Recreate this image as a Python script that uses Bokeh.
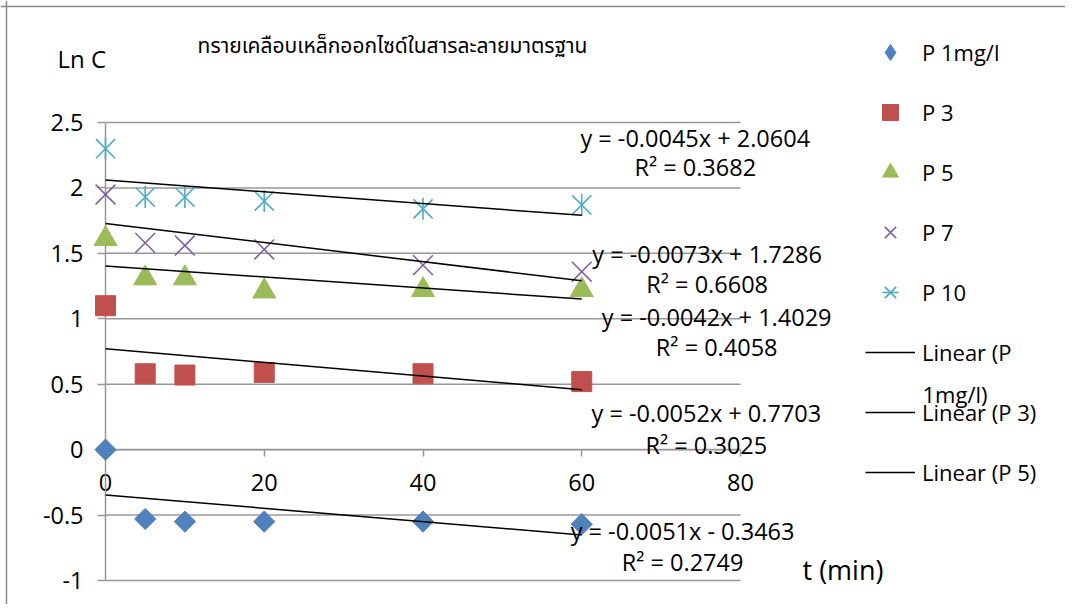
import numpy as np
from bokeh.plotting import figure
from bokeh.models import (Range1d, LinearAxis, FixedTicker, Legend,
                          LegendItem, Label, Span)
from bokeh.core.properties import value
from bokeh.embed import file_html
from bokeh.resources import INLINE

# ---------------- data ----------------
title_text = "ทรายเคลือบเหล็กออกไซด์ในสารละลายมาตรฐาน"
y_title = "Ln C"
x_title = "t (min)"

t = [0, 5, 10, 20, 40, 60]
series_names = ["P 1mg/l", "P 3", "P 5", "P 7", "P 10"]
p1 = [0.0, -0.53, -0.55, -0.55, -0.55, -0.57]
p3 = [1.10, 0.58, 0.57, 0.59, 0.58, 0.52]
p5 = [1.61, 1.31, 1.31, 1.21, 1.22, 1.22]
p7 = [1.95, 1.58, 1.56, 1.53, 1.41, 1.36]
p10 = [2.30, 1.93, 1.93, 1.90, 1.84, 1.87]

trend_slopes = [-0.0051, -0.0052, -0.0042, -0.0073, -0.0045]
trend_intercepts = [-0.3463, 0.7703, 1.4029, 1.7286, 2.0604]
trend_r2 = [0.2749, 0.3025, 0.4058, 0.6608, 0.3682]

x_ticks = [0, 20, 40, 60, 80]
x_tick_labels = ["0", "20", "40", "60", "80"]
y_ticks = [-1, -0.5, 0, 0.5, 1, 1.5, 2, 2.5]
y_tick_labels = ["-1", "-0.5", "0", "0.5", "1", "1.5", "2", "2.5"]

# ---------------- layout / style ----------------
W, H = 1065, 604
SX = 635 / 80.0          # px per x unit
SY = 458 / 3.5           # px per y unit
X0 = -105 / SX
X1 = X0 + W / SX
Y1 = 2.5 + 122 / SY
Y0 = Y1 - H / SY

FONT = "Open Sans"
FS = "23.5px"
LFS = "22px"
GRID = "#989898"
colors = ["#4F81BD", "#C0504D", "#9BBB59", "#8064A2", "#4BACC6"]

# equation label anchors (data units): x centre, y of equation, y of R²
label_pos = [(72.7, -0.619, -0.856), (75.7, 0.283, 0.038), (77.0, 1.016, 0.787),
             (75.8, 1.498, 1.269), (74.3, 2.384, 2.163)]

p = figure(width=W, height=H, x_range=Range1d(X0, X1), y_range=Range1d(Y0, Y1),
           output_backend="svg", toolbar_location=None,
           x_axis_location=None, y_axis_location=None, min_border=0,
           outline_line_color=None, background_fill_color="white")
for g in p.grid:
    g.visible = False

# border of chart area
p.add_layout(Span(location=X0 + 6.0 / SX, dimension="height", line_color="#8a8a8a", line_width=1.5))
p.add_layout(Span(location=Y1 - 6.0 / SY, dimension="width", line_color="#8a8a8a", line_width=1.5))

# horizontal gridlines across the x-axis extent
p.segment(x0=[x_ticks[0]] * len(y_ticks), x1=[x_ticks[-1]] * len(y_ticks),
          y0=y_ticks, y1=y_ticks, line_color=GRID, line_width=1.5)

# axes crossing at (0, 0)
xa = LinearAxis(ticker=FixedTicker(ticks=x_ticks), fixed_location=0, bounds=(0, 80),
                major_label_overrides=dict(zip(x_ticks, x_tick_labels)),
                axis_line_color=GRID, axis_line_width=1.5,
                major_tick_line_color=GRID, major_tick_line_width=1.5,
                major_tick_in=0, major_tick_out=7, minor_tick_in=0, minor_tick_out=0,
                major_label_standoff=17, major_label_text_font=FONT,
                major_label_text_font_size=FS, major_label_text_color="black",
                level="underlay")
p.add_layout(xa, "below")
ya = LinearAxis(ticker=FixedTicker(ticks=y_ticks), fixed_location=0, bounds=(-1, 2.5),
                major_label_overrides=dict(zip(y_ticks, y_tick_labels)),
                axis_line_color=GRID, axis_line_width=1.5,
                major_tick_line_color=GRID, major_tick_line_width=1.5,
                major_tick_in=0, major_tick_out=8, minor_tick_in=0, minor_tick_out=0,
                major_label_standoff=14, major_label_text_font=FONT,
                major_label_text_font_size=FS, major_label_text_color="black",
                level="underlay")
p.add_layout(ya, "left")

# series markers
r1 = p.scatter(t, p1, marker="square", angle=np.pi / 4, size=15,
               fill_color=colors[0], line_color=colors[0])
# legend key for the diamond series (not drawn in the plot)
r1_key = p.scatter(x=t[:1], y=p1[:1], marker="diamond", size=18, visible=False,
                   fill_color=colors[0], line_color=colors[0])
r3 = p.scatter(t, p3, marker="square", size=20, fill_color=colors[1], line_color=colors[1])
r5 = p.scatter(t, p5, marker="triangle", size=23, fill_color=colors[2], line_color=colors[2])
r7 = p.scatter(t, p7, marker="x", size=28, line_color=colors[3], line_width=1.6)
r10a = p.scatter(t, p10, marker="x", size=27, line_color=colors[4], line_width=1.6)
r10b = p.scatter(t, p10, marker="dash", angle=np.pi / 2, size=22,
                 line_color=colors[4], line_width=1.6)
marker_renderers = [[r1_key], [r3], [r5], [r7], [r10a, r10b]]

# trendlines and their equations
trend_renderers = []
tx = np.array([min(t), max(t)], dtype=float)
for m, b, r2, (lx, ly1, ly2) in zip(trend_slopes, trend_intercepts, trend_r2, label_pos):
    tr = p.line(tx, m * tx + b, line_color="black", line_width=1.5)
    trend_renderers.append(tr)
    sign = "+" if b >= 0 else "-"
    eq = f"y = {m:.4f}x {sign} {abs(b):.4f}"
    rs = f"R² = {r2:.4f}"
    p.text(x=[lx, lx], y=[ly1, ly2], text=[eq, rs], text_align="center",
           text_baseline="middle", text_font=value(FONT), text_font_size=FS,
           text_color="black")

# legend (screen positions measured from the bottom of the canvas)
items = [LegendItem(label=n, renderers=rs) for n, rs in zip(series_names, marker_renderers)]
lin_labels = [f"Linear ({n})" for n in series_names[:3]]
first_line, second_line = lin_labels[0].rsplit(" ", 1)
items.append(LegendItem(label=first_line, renderers=[trend_renderers[0]]))
items.append(LegendItem(label=lin_labels[1], renderers=[trend_renderers[1]]))
items.append(LegendItem(label=lin_labels[2], renderers=[trend_renderers[2]]))
legend = Legend(items=items, location=(865, H - 492), orientation="vertical",
                glyph_width=50, glyph_height=40, label_height=32, spacing=20,
                label_standoff=7, padding=0, margin=0, border_line_color=None,
                background_fill_alpha=0, inactive_fill_alpha=0,
                label_text_font=FONT, label_text_font_size=LFS,
                label_text_color="black")
p.add_layout(legend)
p.add_layout(Label(x=922, y=H - 393, x_units="screen", y_units="screen", text=second_line,
                   text_align="left", text_baseline="middle", text_font=FONT,
                   text_font_size=LFS, text_color="black"))

# titles
p.add_layout(Label(x=392, y=H - 46, x_units="screen", y_units="screen", text=title_text,
                   text_align="center", text_baseline="middle",
                   text_font="Noto Sans Thai, Noto Sans, sans-serif",
                   text_font_size="21px", text_color="black"))
p.add_layout(Label(x=57, y=H - 58, x_units="screen", y_units="screen", text=y_title,
                   text_align="left", text_baseline="middle", text_font=FONT,
                   text_font_size="24px", text_color="black"))
p.add_layout(Label(x=802, y=H - 569, x_units="screen", y_units="screen", text=x_title,
                   text_align="left", text_baseline="middle", text_font=FONT,
                   text_font_size="27px", text_color="black"))

open("out.html", "w").write(file_html(p, INLINE))
